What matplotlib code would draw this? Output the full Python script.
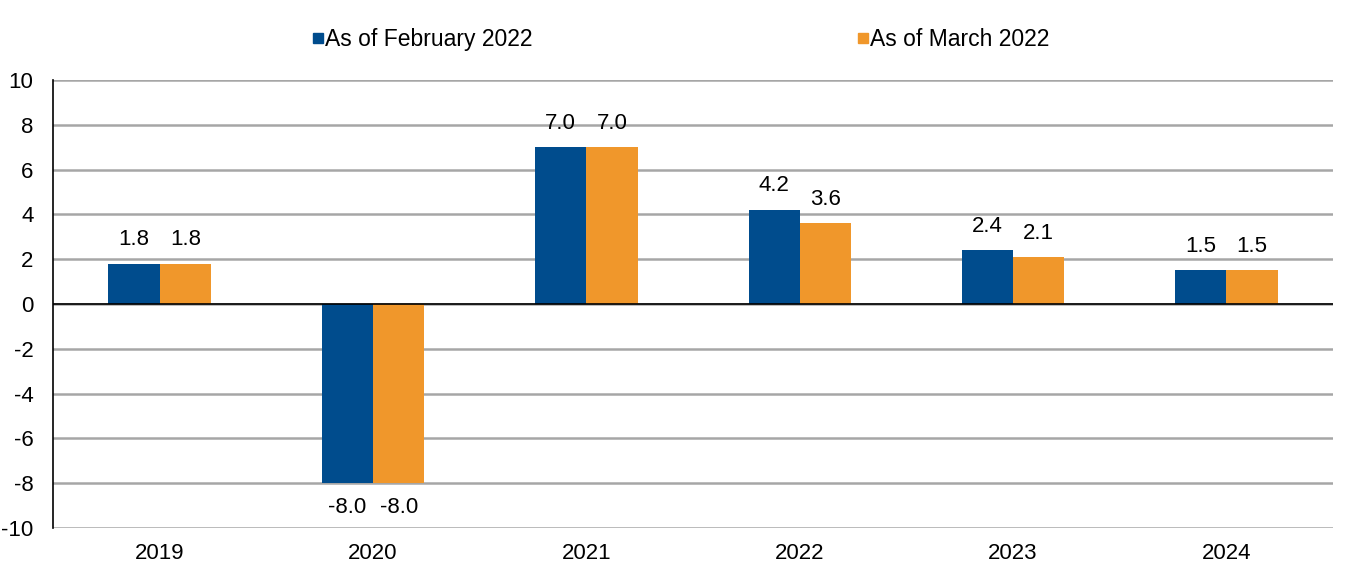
import matplotlib.pyplot as plt
import numpy as np
from matplotlib.lines import Line2D

years = ['2019', '2020', '2021', '2022', '2023', '2024']
feb_2022 = [1.8, -8.0, 7.0, 4.2, 2.4, 1.5]
mar_2022 = [1.8, -8.0, 7.0, 3.6, 2.1, 1.5]
labels = ['As of February 2022', 'As of March 2022']

blue = '#004C8D'
orange = '#F0972B'

plt.rcParams['font.family'] = ['Liberation Sans', 'DejaVu Sans']
plt.rcParams['font.size'] = 16
plt.rcParams['axes.unicode_minus'] = False

fig = plt.figure(figsize=(13.48, 5.78), dpi=100)
ax = fig.add_axes([0.0393, 0.0865, 0.9497, 0.7751])

x = np.arange(len(years))
w = 0.24
b1 = ax.bar(x - w / 2, feb_2022, w, color=blue, zorder=3)
b2 = ax.bar(x + w / 2, mar_2022, w, color=orange, zorder=3)

for bars, vals in [(b1, feb_2022), (b2, mar_2022)]:
    for bar, v in zip(bars, vals):
        cx = bar.get_x() + bar.get_width() / 2
        if v >= 0:
            ax.text(cx, v + 0.6, f'{v:.1f}', ha='center', va='bottom')
        else:
            ax.text(cx, v - 0.6, f'{v:.1f}', ha='center', va='top')

ax.set_xlim(-0.5, len(years) - 0.5)
ax.set_ylim(-10, 10)
ax.set_yticks(range(-10, 11, 2))
ax.set_xticks(x)
ax.set_xticklabels(years)
ax.yaxis.grid(True, color='#A6A6A6', linewidth=1.8, zorder=0)
ax.axhline(0, color='black', linewidth=1.2, zorder=4)
for s in ['top', 'right', 'bottom']:
    ax.spines[s].set_visible(False)
ax.spines['left'].set_linewidth(1.2)
ax.tick_params(axis='x', length=0, pad=11)
ax.tick_params(axis='y', length=0, pad=14)

handles = [Line2D([], [], marker='s', linestyle='', color=c, markersize=7.5)
           for c in (blue, orange)]
fig.legend(handles, labels, loc='center', bbox_to_anchor=(0.505, 0.932), ncol=2,
           frameon=False, handlelength=0.5, handletextpad=0.05, columnspacing=14.2,
           fontsize=16.5)

fig.savefig('out.png', dpi=100)
